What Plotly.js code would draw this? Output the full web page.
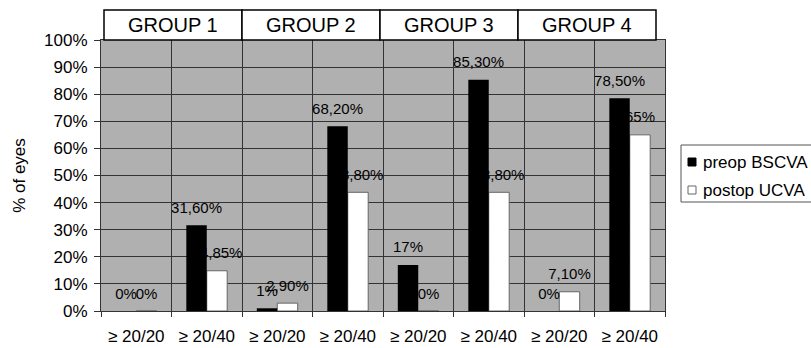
<!DOCTYPE html>
<html>
<head>
<meta charset="utf-8">
<script src="https://cdn.plot.ly/plotly-3.0.1.min.js"></script>
<style>
  html, body { margin: 0; padding: 0; background: #ffffff; }
  #chart { width: 811px; height: 348px; }
</style>
</head>
<body>
<div id="chart"></div>
<script>
// Visual acuity outcomes per group
const groups = ['GROUP 1', 'GROUP 2', 'GROUP 3', 'GROUP 4'];
const thresholds = ['\u2265 20/20', '\u2265 20/40'];
const seriesNames = ['preop BSCVA', 'postop UCVA'];
const preop = [0, 31.6, 1, 68.2, 17, 85.3, 0, 78.5];
const postop = [0, 14.85, 2.9, 43.8, 0, 43.8, 7.1, 65];

// Plot geometry (pixels)
const W = 811, H = 348;
const M = { l: 101, r: 146, t: 40, b: 37 };
const plotW = W - M.l - M.r, plotH = H - M.t - M.b;
const px = x => (x - M.l) / plotW;          // page x -> paper x
const py = y => (H - M.b - y) / plotH;       // page y -> paper y

const FONT = 'Liberation Sans, Arial, Helvetica, sans-serif';
const GRID = '#333333';
const BAR_W = 0.29;
const LABEL_LIFT = 2.4;   // extra space between bar top and its value label

// Category positions and axis labels
const xs = [], tickText = [];
groups.forEach((g, gi) => thresholds.forEach((t, ti) => {
  xs.push(gi * thresholds.length + ti);
  tickText.push(t);
}));

// "31,60%" style, whole numbers without decimals
const fmt = v => Number.isInteger(v) ? v + '%' : v.toFixed(2).replace('.', ',') + '%';

function labelTrace(vals, offset) {
  return {
    type: 'bar', x: xs, y: vals.map(() => LABEL_LIFT), base: vals,
    width: BAR_W, offset: offset,
    marker: { color: 'rgba(0,0,0,0)', line: { width: 0 } },
    text: vals.map(fmt), textposition: 'outside', textangle: 0,
    constraintext: 'none', cliponaxis: false,
    textfont: { family: FONT, size: 15, color: '#000000' },
    hoverinfo: 'skip', showlegend: false
  };
}

const data = [
  labelTrace(postop, 0),
  {
    type: 'bar', name: seriesNames[1], x: xs, y: postop,
    width: BAR_W, offset: 0,
    marker: { color: '#ffffff', line: { color: '#666666', width: 1 } },
    hoverinfo: 'skip', showlegend: false
  },
  {
    type: 'bar', name: seriesNames[0], x: xs, y: preop,
    width: BAR_W, offset: -BAR_W,
    marker: { color: '#000000', line: { color: '#000000', width: 0 } },
    hoverinfo: 'skip', showlegend: false
  },
  labelTrace(preop, -BAR_W)
];

// Group header boxes above the plot
const shapes = [], annotations = [];
const hdrL = 104, hdrR = 656, hdrT = 10, hdrB = 40;
const hdrStep = (hdrR - hdrL) / groups.length;
groups.forEach((g, i) => {
  const x0 = hdrL + i * hdrStep, x1 = x0 + hdrStep;
  shapes.push({
    type: 'rect', xref: 'paper', yref: 'paper',
    x0: px(x0), x1: px(x1), y0: py(hdrB), y1: py(hdrT),
    fillcolor: '#ffffff', line: { color: '#000000', width: 1.5 }, layer: 'above'
  });
  annotations.push({
    xref: 'paper', yref: 'paper', x: px((x0 + x1) / 2), y: py((hdrT + hdrB) / 2),
    text: g, showarrow: false, xanchor: 'center', yanchor: 'middle',
    font: { family: FONT, size: 20, color: '#000000' }
  });
});

// Legend box with swatches
shapes.push({
  type: 'rect', xref: 'paper', yref: 'paper',
  x0: px(681), x1: px(812), y0: py(202), y1: py(145),
  fillcolor: '#ffffff', line: { color: '#555555', width: 1 }
});
const swatch = [
  { fill: '#000000', line: '#000000' },
  { fill: '#ffffff', line: '#666666' }
];
[162, 190].forEach((cy, i) => {
  shapes.push({
    type: 'rect', xref: 'paper', yref: 'paper',
    x0: px(688), x1: px(696), y0: py(cy + 4), y1: py(cy - 4),
    fillcolor: swatch[i].fill, line: { color: swatch[i].line, width: 1 }
  });
  annotations.push({
    xref: 'paper', yref: 'paper', x: px(701), y: py(cy),
    text: seriesNames[i], showarrow: false, xanchor: 'left', yanchor: 'middle',
    font: { family: FONT, size: 17, color: '#000000' }
  });
});

const layout = {
  width: W, height: H, margin: M,
  paper_bgcolor: '#ffffff', plot_bgcolor: '#b0b0b0',
  barmode: 'overlay', showlegend: false, hovermode: false,
  font: { family: FONT, color: '#000000' },
  xaxis: {
    range: [-0.5, xs.length - 0.5],
    tickmode: 'array', tickvals: xs, ticktext: tickText,
    ticks: '', showgrid: false, zeroline: false,
    showline: true, linecolor: GRID, linewidth: 1, mirror: true,
    tickfont: { family: FONT, size: 17, color: '#000000' },
    ticklabelstandoff: 10,
    minor: {
      tickmode: 'array', tickvals: xs.concat([xs.length]).map(v => v - 0.5),
      ticks: 'outside', ticklen: 5, tickcolor: GRID, tickwidth: 1,
      showgrid: true, gridcolor: GRID, gridwidth: 1
    },
    fixedrange: true
  },
  yaxis: {
    range: [0, 100], tickmode: 'linear', tick0: 0, dtick: 10, ticksuffix: '%',
    ticks: 'outside', ticklen: 6, tickcolor: GRID, tickwidth: 1,
    showgrid: true, gridcolor: GRID, gridwidth: 1, zeroline: false,
    showline: true, linecolor: GRID, linewidth: 1, mirror: true,
    tickfont: { family: FONT, size: 17, color: '#000000' },
    ticklabelstandoff: 3,
    title: { text: '% of eyes', font: { family: FONT, size: 17, color: '#000000' }, standoff: 14 },
    fixedrange: true
  },
  shapes: shapes,
  annotations: annotations
};

Plotly.newPlot('chart', data, layout, { displayModeBar: false, staticPlot: true });
</script>
</body>
</html>
